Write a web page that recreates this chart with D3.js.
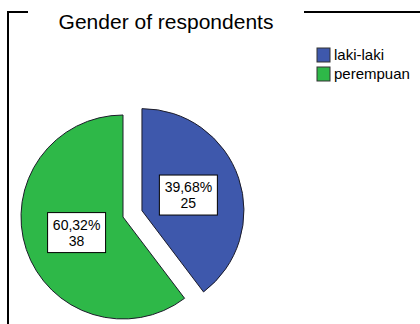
<!DOCTYPE html>
<html>
<head>
<meta charset="utf-8">
<script src="https://cdn.jsdelivr.net/npm/d3@7"></script>
<style>
  body { margin: 0; background: #fff; }
  svg { display: block; font-family: "Liberation Sans", Arial, sans-serif; }
</style>
</head>
<body>
<div id="viz"></div>
<script>
const width = 420;
const height = 324;

// data
const categories = ['laki-laki', 'perempuan'];
const counts = [25, 38];
const colors = ['#3e58ac', '#2eb848'];
const title = 'Gender of respondents';

const pieCenter = {x: 123, y: 217};
const radius = 102;
const explode = 20; // only the first slice is pulled out

const data = categories.map((c, i) => ({key: c, count: counts[i], color: colors[i]}));
const total = d3.sum(counts);
const fmt = d3.formatLocale({decimal: ',', thousands: '.', grouping: [3], currency: ['', '']}).format('.2f');

const svg = d3.select('#viz')
  .append('svg')
    .attr('width', width)
    .attr('height', height)
    .attr('viewBox', [0, 0, width, height]);

// frame, broken by the title
svg.append('path')
  .attr('d', 'M8,' + (height + 2) + 'V12H28M304,12H' + (width + 2))
  .attr('fill', 'none')
  .attr('stroke', '#000')
  .attr('stroke-width', 2);

svg.append('text')
  .attr('x', 166)
  .attr('y', 29)
  .attr('text-anchor', 'middle')
  .style('font-size', '21px')
  .text(title);

const pie = d3.pie()
  .sort(null)
  .value(d => d.count);

const arc = d3.arc()
  .innerRadius(0)
  .outerRadius(radius);

const labelArc = d3.arc()
  .innerRadius(radius * 0.48)
  .outerRadius(radius * 0.48);

const arcs = pie(data);

const slices = svg.append('g')
  .attr('transform', `translate(${pieCenter.x},${pieCenter.y})`)
  .selectAll('g')
  .data(arcs)
  .join('g')
    .attr('transform', (d, i) => {
      if (i !== 0) return null;
      const mid = (d.startAngle + d.endAngle) / 2;
      return `translate(${Math.sin(mid) * explode},${-Math.cos(mid) * explode})`;
    });

slices.append('path')
  .attr('d', arc)
  .attr('fill', d => d.data.color)
  .attr('stroke', '#1c1c2a')
  .attr('stroke-width', 1);

const labels = slices.append('g')
  .attr('transform', d => `translate(${labelArc.centroid(d)})`);

labels.append('rect')
  .attr('x', -29)
  .attr('y', -20)
  .attr('width', 58)
  .attr('height', 40)
  .attr('fill', '#fff')
  .attr('stroke', '#000')
  .attr('stroke-width', 1);

labels.selectAll('text')
  .data(d => [fmt(d.data.count / total * 100) + '%', d.data.count])
  .join('text')
    .attr('x', 0)
    .attr('y', (d, i) => i === 0 ? -3 : 13)
    .attr('text-anchor', 'middle')
    .style('font-size', '14px')
    .text(d => d);

// legend
const legend = svg.append('g')
  .attr('transform', 'translate(317,48)')
  .selectAll('g')
  .data(data)
  .join('g')
    .attr('transform', (d, i) => `translate(0,${i * 19})`);

legend.append('rect')
  .attr('width', 13)
  .attr('height', 14)
  .attr('fill', d => d.color)
  .attr('stroke', '#333')
  .attr('stroke-width', 1);

legend.append('text')
  .attr('x', 17)
  .attr('y', 12)
  .style('font-size', '15px')
  .text(d => d.key);
</script>
</body>
</html>
